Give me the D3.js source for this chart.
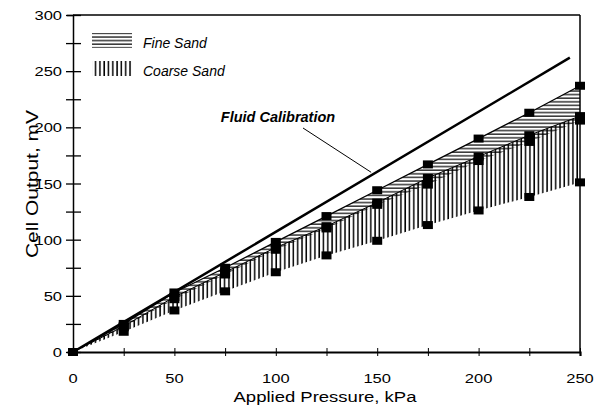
<!DOCTYPE html>
<html>
<head>
<meta charset="utf-8">
<script src="https://cdn.jsdelivr.net/npm/d3@7"></script>
<style>
  body { margin: 0; background: #fff; }
  text { font-family: Arial, "Liberation Sans", sans-serif; fill: #000; }
</style>
</head>
<body>
<div id="chart"></div>
<script>
let width = 596;
let height = 411;

// Applied pressure, kPa
let pressure = [0, 25, 50, 75, 100, 125, 150, 175, 200, 225, 250];

// Cell output, mV
let fineUpper   = [0, 25, 53, 75, 98, 121, 144, 167, 190, 213, 237];
let fineLower   = [0, 22, 47, 69, 91, 110, 131, 149, 170, 187, 206];
let coarseUpper = [0, 23, 49, 71, 93, 112, 133, 155, 174, 193, 210];
let coarseLower = [0, 18, 37, 54, 71, 86, 99, 113, 126, 138, 151];

// Fluid calibration line end points
let fluidX = [0, 245];
let fluidY = [0, 262];

let xTicks = [0, 50, 100, 150, 200, 250];
let yTicks = [0, 50, 100, 150, 200, 250, 300];

let x = d3.scaleLinear().domain([0, 250]).range([73, 580]);
let y = d3.scaleLinear().domain([0, 300]).range([352, 15]);

// the scanned lettering is a bit flatter than normal Arial
let squash = 0.82;

let svg = d3.select("#chart").append("svg")
    .attr("width", width)
    .attr("height", height);

let defs = svg.append("defs");

// horizontal hatching for fine sand
let hp = defs.append("pattern")
    .attr("id", "hatchH")
    .attr("patternUnits", "userSpaceOnUse")
    .attr("width", 8).attr("height", 3.6);
hp.append("line")
    .attr("x1", 0).attr("x2", 8).attr("y1", 1).attr("y2", 1)
    .attr("stroke", "#000").attr("stroke-width", 1.2);

// vertical hatching for coarse sand
let vp = defs.append("pattern")
    .attr("id", "hatchV")
    .attr("patternUnits", "userSpaceOnUse")
    .attr("width", 4.3).attr("height", 8);
vp.append("line")
    .attr("x1", 1).attr("x2", 1).attr("y1", 0).attr("y2", 8)
    .attr("stroke", "#000").attr("stroke-width", 1.5);

let fineData = pressure.map((p, i) => ({p: p, hi: fineUpper[i], lo: fineLower[i]}));
let coarseData = pressure.map((p, i) => ({p: p, hi: coarseUpper[i], lo: coarseLower[i]}));

let area = d3.area()
    .x(d => x(d.p))
    .y0(d => y(d.lo))
    .y1(d => y(d.hi));

svg.append("path")
    .datum(coarseData)
    .attr("d", area)
    .attr("fill", "url(#hatchV)");

svg.append("path")
    .datum(fineData)
    .attr("d", area)
    .attr("fill", "url(#hatchH)");

let line = d3.line().x(d => x(d[0])).y(d => y(d[1]));

// band edges
svg.append("path")
    .datum(pressure.map((p, i) => [p, fineUpper[i]]))
    .attr("d", line)
    .attr("fill", "none").attr("stroke", "#000").attr("stroke-width", 1.3);
svg.append("path")
    .datum(pressure.map((p, i) => [p, coarseUpper[i]]))
    .attr("d", line)
    .attr("fill", "none").attr("stroke", "#000").attr("stroke-width", 1);

// fluid calibration
svg.append("path")
    .datum(fluidX.map((v, i) => [v, fluidY[i]]))
    .attr("d", line)
    .attr("fill", "none").attr("stroke", "#000").attr("stroke-width", 2.5);

// markers
let allSeries = [fineUpper, fineLower, coarseUpper, coarseLower];
allSeries.forEach(s => {
    svg.append("g").selectAll("rect")
        .data(pressure.map((p, i) => [p, s[i]]))
        .join("rect")
        .attr("x", d => x(d[0]) - 5)
        .attr("y", d => y(d[1]) - 4)
        .attr("width", 10)
        .attr("height", 8)
        .attr("fill", "#000");
});

// frame top and right
svg.append("line")
    .attr("x1", x(0)).attr("x2", x(250)).attr("y1", y(300)).attr("y2", y(300))
    .attr("stroke", "#000").attr("stroke-width", 1.5);
svg.append("line")
    .attr("x1", x(250)).attr("x2", x(250)).attr("y1", y(300)).attr("y2", y(0))
    .attr("stroke", "#000").attr("stroke-width", 1.5);

// axes
let xAxis = d3.axisBottom(x)
    .tickValues(d3.range(0, 251, 25))
    .tickSize(4)
    .tickFormat("");
let gx = svg.append("g")
    .attr("transform", "translate(0," + y(0) + ")")
    .call(xAxis);
gx.select(".domain").attr("stroke-width", 2.2);
gx.selectAll(".tick line").attr("y1", -4).attr("stroke-width", 1);

gx.selectAll(".lbl")
    .data(xTicks)
    .join("text")
    .attr("transform", d => "translate(" + x(d) + ",31) scale(1," + squash + ")")
    .attr("text-anchor", "middle")
    .style("font-size", "16.5px")
    .text(d => d);

let yAxis = d3.axisLeft(y)
    .tickValues(d3.range(0, 301, 25))
    .tickSize(6)
    .tickFormat("");
let gy = svg.append("g")
    .attr("transform", "translate(" + x(0) + ",0)")
    .call(yAxis);
gy.select(".domain").attr("stroke-width", 1.5);
gy.selectAll(".tick line").attr("x2", -7).attr("x1", 8).attr("stroke-width", 1.3);

gy.selectAll(".lbl")
    .data(yTicks)
    .join("text")
    .attr("transform", d => "translate(-11," + (y(d) + 5) + ") scale(1," + squash + ")")
    .attr("text-anchor", "end")
    .style("font-size", "16.5px")
    .text(d => d);

// axis titles
svg.append("text")
    .attr("transform", "translate(325,402) scale(1," + squash + ")")
    .attr("text-anchor", "middle")
    .style("font-size", "18.5px")
    .text("Applied Pressure, kPa");

svg.append("text")
    .attr("transform", "translate(38,184) rotate(-90) scale(1,0.75)")
    .attr("text-anchor", "middle")
    .style("font-size", "21px")
    .text("Cell Output, mV");

// legend
let legend = [
    {name: "Fine Sand", fill: "url(#hatchH)"},
    {name: "Coarse Sand", fill: "url(#hatchV)"}
];
let lg = svg.append("g");
legend.forEach((d, i) => {
    lg.append("rect")
        .attr("x", 92).attr("y", 33 + i * 28)
        .attr("width", 40).attr("height", 15)
        .attr("fill", d.fill);
    lg.append("text")
        .attr("x", 143).attr("y", 48 + i * 28)
        .style("font-size", "14px")
        .style("font-style", "italic")
        .text(d.name);
});

// fluid calibration label
svg.append("text")
    .attr("x", 278).attr("y", 122)
    .attr("text-anchor", "middle")
    .style("font-size", "14.5px")
    .style("font-style", "italic")
    .style("font-weight", "bold")
    .text("Fluid Calibration");
svg.append("line")
    .attr("x1", 303).attr("y1", 128)
    .attr("x2", x(147)).attr("y2", y(160))
    .attr("stroke", "#000").attr("stroke-width", 1);
</script>
</body>
</html>
